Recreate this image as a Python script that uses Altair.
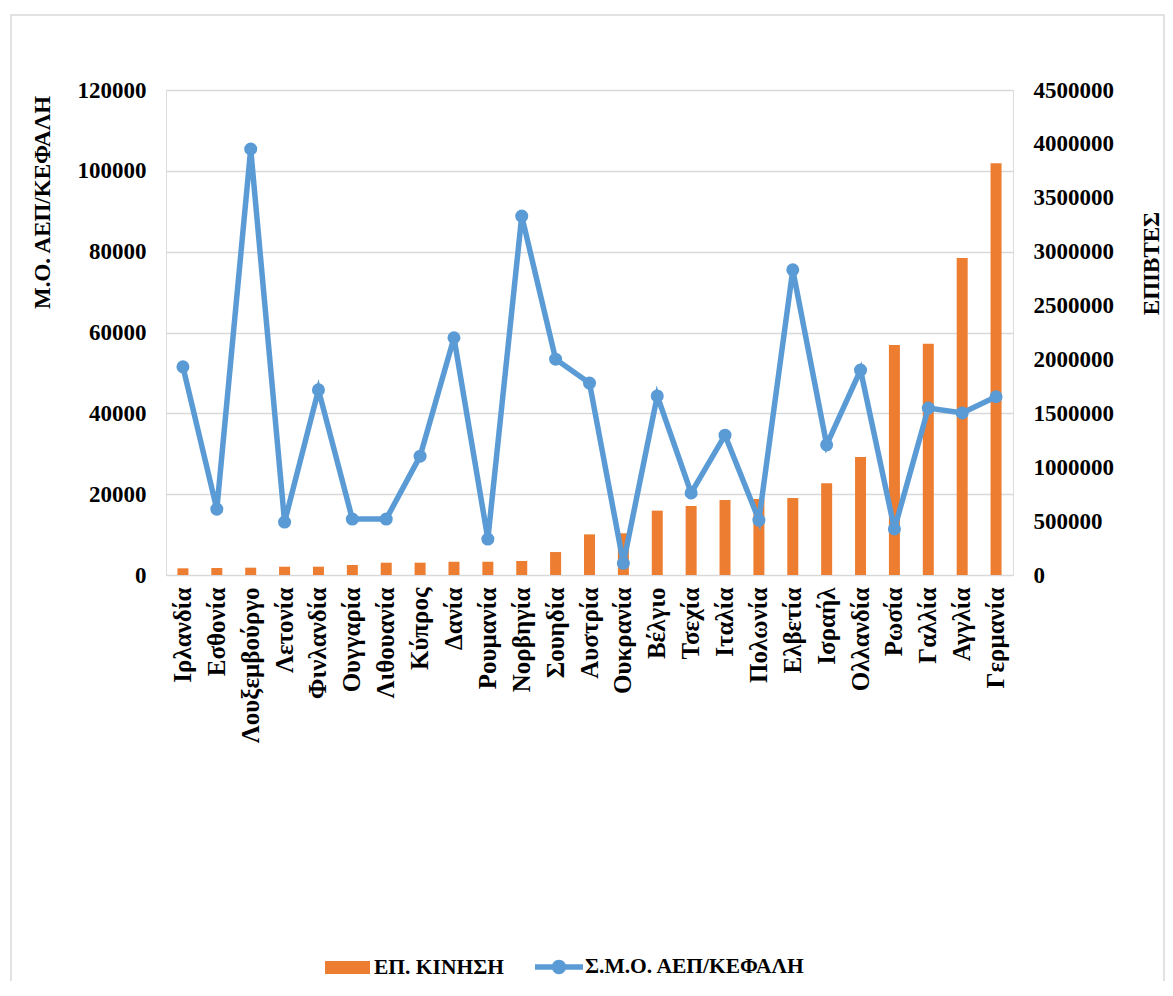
import altair as alt
import pandas as pd

countries = ["Ιρλανδία", "Εσθονία", "Λουξεμβούργο", "Λετονία", "Φινλανδία", "Ουγγαρία",
             "Λιθουανία", "Κύπρος", "Δανία", "Ρουμανία", "Νορβηγία", "Σουηδία", "Αυστρία",
             "Ουκρανία", "Βέλγιο", "Τσεχία", "Ιταλία", "Πολωνία", "Ελβετία", "Ισραήλ",
             "Ολλανδία", "Ρωσία", "Γαλλία", "Αγγλία", "Γερμανία"]

passengers = [62000, 65000, 68000, 77000, 77000, 93000, 114000, 114000, 123000, 123000,
              130000, 213000, 377000, 387000, 597000, 640000, 696000, 705000, 714000,
              851000, 1095000, 2134000, 2146000, 2941000, 3820000]

gdp = [51500, 16300, 105400, 13100, 45800, 13850, 13850, 29400, 58700, 8900, 88800, 53400,
       47500, 2900, 44300, 20300, 34600, 13600, 75500, 32200, 50700, 11400, 41300, 40100, 44100]

bar_name = "ΕΠ. ΚΙΝΗΣΗ"
line_name = "Σ.Μ.Ο. ΑΕΠ/ΚΕΦΑΛΗ"
left_ticks = [0, 20000, 40000, 60000, 80000, 100000, 120000]
right_ticks = [0, 500000, 1000000, 1500000, 2000000, 2500000, 3000000, 3500000, 4000000, 4500000]

df = pd.DataFrame({
    "country": countries,
    "passengers": passengers,
    "gdp": gdp,
    "bar_series": [bar_name] * len(countries),
    "line_series": [line_name] * len(countries),
})

FONT = "Liberation Serif"
ORANGE = "#ED7D31"
BLUE = "#5B9BD5"
GRID = "#d9d9d9"

x_enc = alt.X("country:N", sort=countries,
              scale=alt.Scale(paddingInner=0, paddingOuter=0),
              axis=alt.Axis(title=None, labelAngle=270, labelPadding=12, domain=False,
                            ticks=False, labelFont=FONT, labelFontSize=25,
                            labelFontWeight="bold", labelColor="black"))

border = alt.Chart(pd.DataFrame({"a": [0]})).mark_rect(
    fill=None, stroke=GRID, strokeWidth=1.5
).encode(x=alt.value(-155), x2=alt.value(998), y=alt.value(-75), y2=alt.value(930))

bars = alt.Chart(df).mark_bar(size=11).encode(
    x=x_enc,
    y=alt.Y("passengers:Q",
            scale=alt.Scale(domain=[0, 4500000], nice=False),
            axis=alt.Axis(orient="right", values=right_ticks, format="d", grid=False,
                          domain=False, ticks=False, labelPadding=20,
                          labelFont=FONT, labelFontSize=23, labelFontWeight="bold",
                          labelColor="black",
                          title="ΕΠΙΒΤΕΣ", titleFont=FONT, titleFontSize=23,
                          titleFontWeight="bold", titleColor="black", titleAngle=270,
                          titleAlign="center", titleBaseline="middle",
                          titleX=138, titleY=173)),
    color=alt.Color("bar_series:N",
                    scale=alt.Scale(domain=[bar_name], range=[ORANGE]),
                    legend=alt.Legend(title=None, orient="none", legendX=159, legendY=855,
                                      symbolType="M-1,-0.29H1V0.29H-1Z", symbolSize=2025,
                                      symbolStrokeWidth=0, labelOffset=4, padding=0,
                                      labelFont=FONT, labelFontSize=21.5,
                                      labelFontWeight="bold", labelColor="black",
                                      labelLimit=400)),
)

y_left = alt.Y("gdp:Q",
               scale=alt.Scale(domain=[0, 120000], nice=False),
               axis=alt.Axis(orient="left", values=left_ticks, format="d", grid=True,
                             gridColor=GRID, gridWidth=1.3, domain=False, ticks=False,
                             labelPadding=20, labelFont=FONT, labelFontSize=23,
                             labelFontWeight="bold", labelColor="black",
                             title="Μ.Ο. ΑΕΠ/ΚΕΦΑΛΗ", titleFont=FONT, titleFontSize=23,
                             titleFontWeight="bold", titleColor="black", titleAngle=270,
                             titleAlign="center", titleBaseline="middle",
                             titleX=-124, titleY=112))

line = alt.Chart(df).mark_line(color=BLUE, strokeWidth=5.5).encode(
    x=alt.X("country:N", sort=countries),
    y=y_left,
)

points = alt.Chart(df).mark_circle(size=170, opacity=1).encode(
    x=alt.X("country:N", sort=countries),
    y=alt.Y("gdp:Q"),
    color=alt.Color("line_series:N",
                    scale=alt.Scale(domain=[line_name], range=[BLUE]),
                    legend=alt.Legend(title=None, orient="none", legendX=369, legendY=853,
                                      symbolType="M-1,-0.11H1V0.11H-1Z M-0.3,0A0.3,0.3,0,1,1,0.3,0A0.3,0.3,0,1,1,-0.3,0Z",
                                      symbolSize=2304, symbolStrokeWidth=0, labelOffset=2,
                                      padding=0, labelFont=FONT, labelFontSize=21.5,
                                      labelFontWeight="bold", labelColor="black",
                                      labelLimit=400)),
)

line_layer = alt.layer(line, points)

chart = alt.layer(border, bars, line_layer).resolve_scale(
    y="independent", color="independent"
).properties(
    width=847, height=485,
    padding={"left": 158, "top": 82, "right": 152, "bottom": 406},
    autosize=alt.AutoSizeParams(type="none"),
).configure_view(stroke=None).configure(background="white", font=FONT)

chart.save("out.html", embed_options={"renderer": "svg", "actions": False})
